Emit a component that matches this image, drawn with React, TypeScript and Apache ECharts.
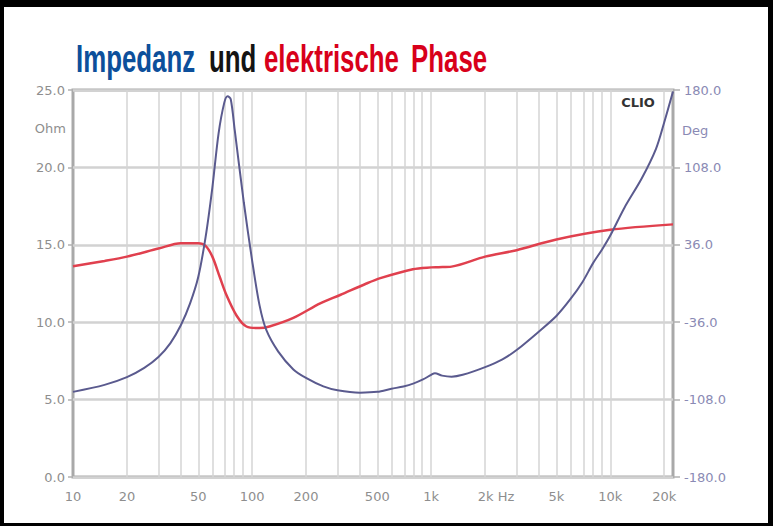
import React, { useEffect, useRef } from "react";
import * as echarts from "echarts";

// Impedance curve (Ohm) over frequency (Hz)
const freqHz = [10, 15, 20, 25, 30, 35, 40, 45, 50, 55, 60, 65, 70, 73, 76, 80, 90, 100, 110, 120, 140, 170, 200, 250, 300, 400, 500, 600, 700, 800, 900, 1000, 1050, 1150, 1300, 1500, 2000, 2500, 3000, 4000, 5000, 6000, 7000, 8000, 9000, 10000, 12000, 15000, 18000, 20000, 22400];
const impedanceOhm = [5.5, 5.95, 6.45, 7.05, 7.75, 8.65, 9.8, 11.2, 12.9, 15.5, 18.7, 22.2, 24.2, 24.6, 24.4, 22.4, 17.7, 14.0, 11.1, 9.5, 8.1, 6.95, 6.4, 5.85, 5.6, 5.45, 5.5, 5.7, 5.85, 6.05, 6.3, 6.6, 6.7, 6.55, 6.48, 6.6, 7.1, 7.6, 8.2, 9.4, 10.4, 11.5, 12.6, 13.8, 14.7, 15.6, 17.4, 19.3, 21.2, 22.9, 24.9];

// Electrical phase (deg) over frequency (Hz)
const phaseFreqHz = [10, 15, 20, 30, 40, 50, 55, 60, 66, 72, 82, 93, 110, 125, 170, 240, 310, 435, 520, 790, 1000, 1100, 1300, 2000, 3000, 5000, 10000, 22400];
const phaseDeg = [16, 21, 25, 32.5, 37.5, 37.5, 35, 25, 6, -11, -30, -40, -41.5, -40, -32, -18.5, -10.7, 0, 5, 13.3, 15, 15.2, 15.7, 25, 31, 41, 50, 55];

// Axes
const xMinHz = 10;
const xMaxHz = 22400;
const xLabelFreqs = [10, 20, 50, 100, 200, 500, 1000, 2000, 5000, 10000, 20000];
const xLabelTexts = ["10", "20", "50", "100", "200", "500", "1k", "2k Hz", "5k", "10k", "20k"];
const gridFreqs = [20, 30, 40, 50, 60, 70, 80, 90, 100, 200, 300, 400, 500, 600, 700, 800, 900, 1000, 2000, 3000, 4000, 5000, 6000, 7000, 8000, 9000, 10000, 20000];
const ohmMin = 0;
const ohmMax = 25;
const ohmStep = 5;
const degTicks = [-180, -108, -36, 36, 108, 180];

const titleWords = [
  { text: "Impedanz", color: "#0c4f9b", x: 76 },
  { text: "und", color: "#141414", x: 209 },
  { text: "elektrische", color: "#d8001a", x: 264 },
  { text: "Phase", color: "#d8001a", x: 411 },
];

const lg = (f: number) => Math.log10(f);

export default function App() {
  const ref = useRef<HTMLDivElement>(null);

  useEffect(() => {
    if (!ref.current) return;
    const chart = echarts.init(ref.current, undefined, { renderer: "svg" });
    const labelFont = "DejaVu Sans";
    const xLabelLogs = xLabelFreqs.map(lg);

    const option: any = {
      animation: false,
      backgroundColor: "transparent",
      grid: {
        left: 73,
        right: 100,
        top: 90,
        bottom: 49,
        show: true,
        borderColor: "#a9a9a9",
        borderWidth: 3,
        backgroundColor: "#ffffff",
      },
      xAxis: {
        type: "value",
        min: lg(xMinHz),
        max: lg(xMaxHz),
        axisLine: { show: false },
        axisTick: { show: false },
        splitLine: { show: false },
        axisLabel: {
          customValues: xLabelLogs,
          color: "#8e8e8e",
          fontSize: 13,
          fontFamily: labelFont,
          margin: 13,
          formatter: (v: number) => {
            let best = 0;
            for (let i = 0; i < xLabelLogs.length; i++) {
              if (Math.abs(xLabelLogs[i] - v) < Math.abs(xLabelLogs[best] - v)) best = i;
            }
            const t = xLabelTexts[best];
            return t.indexOf("Hz") >= 0 ? "{hz|" + t + "}" : t;
          },
          rich: {
            hz: {
              color: "#8e8e8e",
              fontSize: 13,
              fontFamily: labelFont,
              padding: [0, 0, 0, 22],
            },
          },
        },
      },
      yAxis: [
        {
          type: "value",
          min: ohmMin,
          max: ohmMax,
          interval: ohmStep,
          position: "left",
          axisLine: { show: false },
          axisTick: { show: true, length: 5, lineStyle: { color: "#b0b0b0", width: 1.5 } },
          splitLine: { show: true, lineStyle: { color: "#d2d2d2", width: 2.5 } },
          axisLabel: {
            color: "#8e8e8e",
            fontSize: 13,
            fontFamily: labelFont,
            margin: 8,
            formatter: (v: number) => v.toFixed(1),
          },
        },
        {
          type: "value",
          min: degTicks[0],
          max: degTicks[degTicks.length - 1],
          position: "right",
          axisLine: { show: false },
          axisTick: { show: true, length: 7, customValues: degTicks, lineStyle: { color: "#b0b0b0", width: 1.5 } },
          splitLine: { show: false },
          axisLabel: {
            customValues: degTicks,
            color: "#8a8ab4",
            fontSize: 13,
            fontFamily: labelFont,
            margin: 11,
            formatter: (v: number) => v.toFixed(1),
          },
        },
      ],
      series: [
        {
          name: "grid",
          type: "line",
          data: [],
          silent: true,
          markLine: {
            silent: true,
            z: 1,
            symbol: ["none", "none"],
            label: { show: false },
            lineStyle: { color: "#d4d4d4", width: 1.5, type: "solid" },
            emphasis: { disabled: true },
            data: gridFreqs.map((f) => ({ xAxis: lg(f) })),
          },
        },
        {
          name: "Impedanz",
          type: "line",
          yAxisIndex: 0,
          data: freqHz.map((f, i) => [lg(f), impedanceOhm[i]]),
          showSymbol: false,
          smooth: 0.3,
          lineStyle: { color: "#5a5a8e", width: 2 },
          z: 3,
        },
        {
          name: "Phase",
          type: "line",
          yAxisIndex: 1,
          data: phaseFreqHz.map((f, i) => [lg(f), phaseDeg[i]]),
          showSymbol: false,
          smooth: 0.3,
          lineStyle: { color: "#e0404e", width: 2.5 },
          z: 2,
        },
      ],
      graphic: [
        ...titleWords.map((w) => ({
          type: "text",
          x: w.x,
          y: 59,
          scaleX: 0.68,
          style: {
            text: w.text,
            fill: w.color,
            fontSize: 38,
            fontWeight: "bold",
            fontFamily: "Liberation Sans",
            verticalAlign: "middle",
            align: "left",
          },
        })),
        {
          type: "text",
          x: 66,
          y: 128,
          style: { text: "Ohm", fill: "#8e8e8e", fontSize: 13, fontFamily: labelFont, align: "right", verticalAlign: "middle" },
        },
        {
          type: "text",
          x: 682,
          y: 130,
          style: { text: "Deg", fill: "#8a8ab4", fontSize: 13, fontFamily: labelFont, align: "left", verticalAlign: "middle" },
        },
        {
          type: "text",
          x: 638,
          y: 102,
          z: 10,
          style: { text: "CLIO", fill: "#333333", fontSize: 13, fontWeight: "bold", fontFamily: labelFont, align: "center", verticalAlign: "middle" },
        },
      ],
    };

    chart.setOption(option);
    return () => chart.dispose();
  }, []);

  return (
    <div style={{ position: "fixed", left: 0, top: 0, width: 773, height: 526, background: "#000" }}>
      <div style={{ position: "absolute", left: 4, top: 7, width: 764, height: 516, background: "#fff" }} />
      <div ref={ref} style={{ position: "absolute", left: 0, top: 0, width: 773, height: 526 }} />
    </div>
  );
}
